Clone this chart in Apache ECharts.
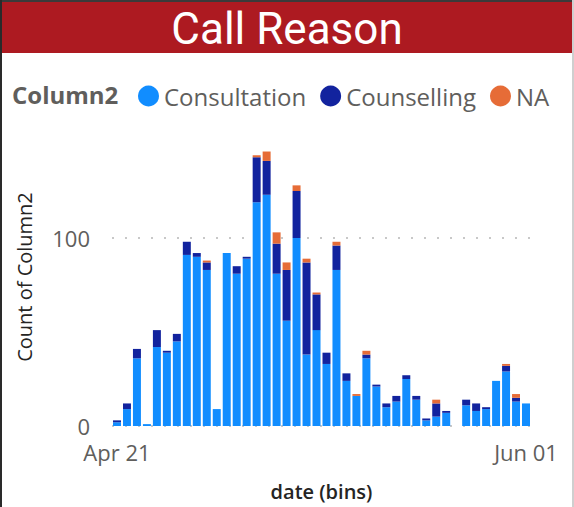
<!DOCTYPE html>
<html>
<head>
<meta charset="utf-8">
<script src="https://cdn.jsdelivr.net/npm/echarts@6/dist/echarts.min.js"></script>
<style>
html,body{margin:0;padding:0;background:#fff;}
#chart{width:574px;height:507px;}
</style>
</head>
<body>
<div id="chart"></div>
<script>
const titleText = 'Call Reason';
const legendTitle = 'Column2';
const yAxisTitle = 'Count of Column2';
const xAxisTitle = 'date (bins)';
const seriesNames = ['Consultation', 'Counselling', 'NA'];
const dates = ['Apr 21','Apr 22','Apr 23','Apr 24','Apr 25','Apr 26','Apr 27','Apr 28','Apr 29','Apr 30',
  'May 01','May 02','May 03','May 04','May 05','May 06','May 07','May 08','May 09','May 10',
  'May 11','May 12','May 13','May 14','May 15','May 16','May 17','May 18','May 19','May 20',
  'May 21','May 22','May 23','May 24','May 25','May 26','May 27','May 28','May 29','May 30',
  'May 31','Jun 01'];
const consultation = [2,9,36,1,42,39,45,91,90,83, 9,92,81,89,119,123,81,56,100,38, 51,33,83,24,16,36,21,10,13,25, 14,3,5,7,0,11,8,9,24,29, 13,12];
const counselling  = [1,3,5,0,9,1,4,7,2,4, 0,0,4,1,24,18,16,27,25,49, 19,6,13,4,0,2,1,2,3,2, 2,1,7,1,0,3,4,1,0,3, 2,0];
const naValues     = [0,0,0,0,0,0,0,0,0,1, 0,0,0,0,1,5,6,4,3,2, 1,0,2,0,1,2,0,0,0,0, 0,0,2,0,0,0,0,0,0,1, 2,0];
const yTicks = [0, 100];

const colors = ['#118DFF', '#12239E', '#E66C37'];
const font = '"Open Sans", "Noto Sans", sans-serif';
const lastIdx = dates.length - 1;

const chart = echarts.init(document.getElementById('chart'), null, {renderer: 'svg'});
chart.setOption({
  animation: false,
  color: colors,
  title: {
    text: titleText,
    left: 'center',
    top: 2,
    textStyle: {color: '#ffffff', fontSize: 44, fontWeight: 'normal', fontFamily: 'Roboto, sans-serif'}
  },
  graphic: [
    {type: 'rect', shape: {x: 0, y: 0, width: 574, height: 53}, style: {fill: '#AD1A21'}, z: -10},
    {type: 'rect', shape: {x: 0, y: 0, width: 574, height: 2}, style: {fill: '#3a3a3a'}, z: 100},
    {type: 'rect', shape: {x: 0, y: 0, width: 2, height: 507}, style: {fill: '#2a2a2a'}, z: 100},
    {type: 'rect', shape: {x: 572, y: 0, width: 2, height: 507}, style: {fill: '#cfcfcf'}, z: 100},
    {type: 'text', left: 12, top: 82, style: {text: legendTitle, fill: '#605E5C', font: 'bold 24px ' + font}},
    {type: 'text', x: 24, y: 277, rotation: Math.PI / 2,
      style: {text: yAxisTitle, fill: '#252423', font: '20px ' + font, textAlign: 'center', textVerticalAlign: 'middle'}}
  ],
  legend: {
    data: seriesNames,
    left: 138,
    top: 84,
    padding: 0,
    icon: 'circle',
    itemWidth: 21,
    itemHeight: 21,
    itemGap: 14,
    selectedMode: false,
    textStyle: {color: '#605E5C', fontSize: 24, fontFamily: font}
  },
  grid: {left: 112, right: 43, top: 144, bottom: 81, containLabel: false, outerBoundsMode: 'none'},
  xAxis: {
    type: 'category',
    data: dates,
    axisLine: {show: false},
    axisTick: {show: false},
    axisLabel: {
      interval: function (i) { return i === 0 || i === lastIdx; },
      color: '#605E5C', fontSize: 22, lineHeight: 20, fontFamily: font, margin: 16
    },
    name: xAxisTitle,
    nameLocation: 'middle',
    nameGap: 54,
    nameTextStyle: {color: '#252423', fontSize: 20, lineHeight: 22, fontWeight: 600, fontFamily: font}
  },
  yAxis: {
    type: 'value',
    min: 0,
    max: 150,
    interval: 100,
    axisLine: {show: false},
    axisTick: {show: false},
    axisLabel: {
      color: '#605E5C', fontSize: 22, lineHeight: 18, fontFamily: font, margin: 22, showMaxLabel: false,
      verticalAlign: 'middle',
      formatter: function (v) { return yTicks.indexOf(v) >= 0 ? String(v) : ''; }
    },
    splitLine: {
      show: true, showMaxLine: false,
      lineStyle: {color: '#C8C8C8', width: 2, type: [2, 11]}
    }
  },
  series: [
    {name: seriesNames[0], type: 'bar', stack: 'total', data: consultation, barCategoryGap: '20%'},
    {name: seriesNames[1], type: 'bar', stack: 'total', data: counselling, barCategoryGap: '20%'},
    {name: seriesNames[2], type: 'bar', stack: 'total', data: naValues, barCategoryGap: '20%'}
  ]
});
</script>
</body>
</html>
